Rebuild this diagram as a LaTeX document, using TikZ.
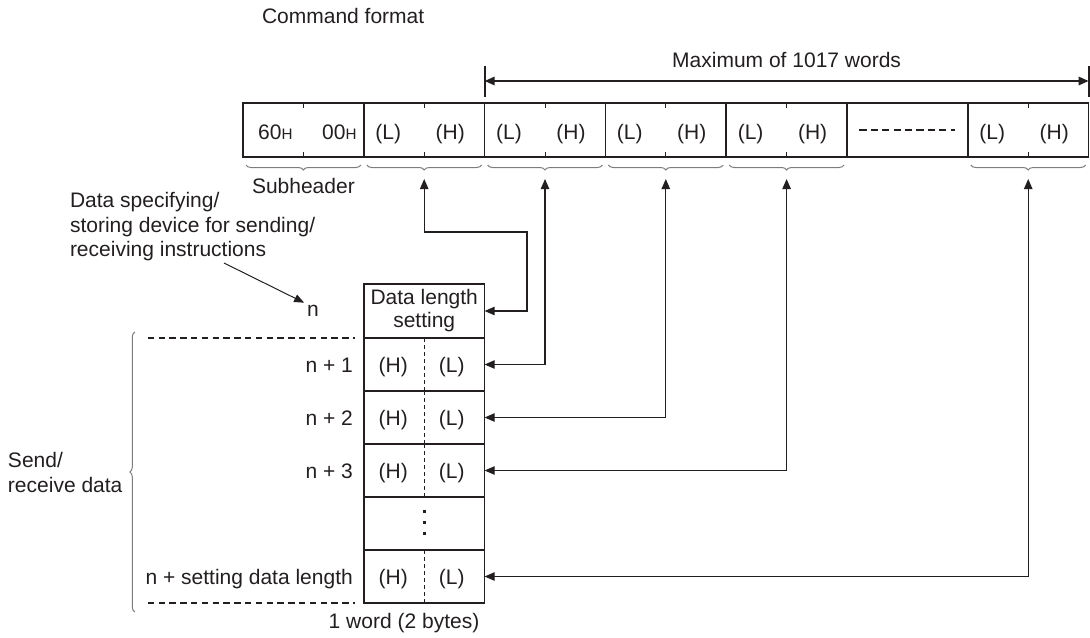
\documentclass[tikz,border=0pt]{standalone}
\usepackage{fontspec}
\setmainfont{Liberation Sans}
\usetikzlibrary{arrows.meta,positioning,calc,decorations.pathreplacing}
\definecolor{inkblack}{RGB}{35,31,32}
\definecolor{bracegray}{RGB}{125,125,125}
\newcommand{\hexH}{{\fontsize{7.6}{8}\selectfont H}}
\tikzset{
  txt/.style     ={inner sep=0pt, outer sep=0pt, text=inkblack,
                   font=\fontsize{10.5}{12.4}\selectfont},
  fmtcell/.style ={rectangle, draw=inkblack, line width=0.85pt, minimum width=60.4pt,
                   minimum height=27pt, inner sep=0pt, outer sep=0pt},
  stkcell/.style ={fmtcell, minimum height=26.5pt},
  midtick/.style ={inkblack, line width=0.5pt},
  halfline/.style={inkblack, line width=0.5pt, dash pattern=on 2pt off 1.5pt},
  rowline/.style ={inkblack, line width=0.6pt, dash pattern=on 3.2pt off 2.2pt},
  gapline/.style ={inkblack, line width=1pt, dash pattern=on 3.6pt off 2.1pt},
  wordbrace/.style={decorate, decoration={brace, amplitude=2.5pt, mirror},
                   bracegray, line width=0.5pt},
  databrace/.style={decorate, decoration={brace, amplitude=2.5pt},
                   bracegray, line width=0.5pt},
  ptr/.style     ={{Triangle[length=5pt,width=4.2pt]}-{Triangle[length=5pt,width=4.2pt]},
                   inkblack, line width=0.6pt},
  note/.style    ={-{Triangle[length=5pt,width=4pt]}, inkblack, line width=0.5pt},
  span/.style    ={ptr, line width=0.9pt},
}
\begin{document}
\begin{tikzpicture}[x=0.5pt, y=-0.5pt]
  \useasboundingbox (0,0) rectangle (1090,637);

  % --- the command format row ---------------------------------------------
  \node[txt, anchor=base west] (title) at (262,24) {Command format};
  \foreach \i in {0,...,6}
    \node[fmtcell] (c\i) at (303.4+120.8*\i,130) {};
  \foreach \i in {0,1,2,3,4,6} {
    \draw[midtick] (c\i.north) -- ++(0,5);
    \draw[midtick] (c\i.south) -- ++(0,-5);
    \draw[wordbrace] ($(c\i.south west)+(3,8)$) -- ($(c\i.south east)+(-3,8)$);
  }
  \node[txt, anchor=base] (hex60) at ($(c0.center)+(-28,9.5)$) {60\hexH};
  \node[txt, anchor=base] (hex00) at ($(c0.center)+(36,9.5)$) {00\hexH};
  \foreach \i in {1,2,3,4,6} {
    \node[txt, anchor=base] (lo\i) at ($(c\i.center)+(-36,9.5)$) {(L)};
    \node[txt, anchor=base] (hi\i) at ($(c\i.center)+(26,9.5)$) {(H)};
    \coordinate (tip\i) at ($(c\i.south)+(0,22)$);
  }
  \draw[gapline] ($(c5.center)+(-48,0)$) -- ($(c5.center)+(48,0)$);
  \node[txt, anchor=base] (subhdr) at ($(c0.south)+(0,36)$) {Subheader};

  % --- the span of the data words ------------------------------------------
  \coordinate (maxL) at ($(c2.north west)+(0,-22)$);
  \coordinate (maxR) at ($(c6.north east)+(0,-22)$);
  \draw[span] (maxL) -- (maxR);
  \draw[inkblack, line width=0.9pt] ($(maxL)+(0,-15)$) -- ($(maxL)+(0,16)$);
  \draw[inkblack, line width=0.9pt] ($(maxR)+(0,-15)$) -- ($(maxR)+(0,16)$);
  \node[txt, anchor=base] (maxlbl) at ($(maxL)!0.5!(maxR)+(0,-14)$)
    {Maximum of 1017 words};

  % --- the device stack -----------------------------------------------------
  \node[fmtcell, align=center, text=inkblack, font=\fontsize{10.5}{11.5}\selectfont]
    (s0) at (424.2,311) {Data length\\setting};
  \node[stkcell, below=0pt of s0] (s1) {};
  \node[stkcell, below=0pt of s1] (s2) {};
  \node[stkcell, below=0pt of s2] (s3) {};
  \node[stkcell, below=0pt of s3] (s4) {};
  \node[stkcell, below=0pt of s4] (s5) {};
  \foreach \i/\name in {1/n + 1, 2/n + 2, 3/n + 3, 5/n + setting data length} {
    \draw[halfline] (s\i.north) -- (s\i.south);
    \node[txt, anchor=base] at ($(s\i.center)+(-31,8)$) {(H)};
    \node[txt, anchor=base] at ($(s\i.center)+(27.5,8)$) {(L)};
    \node[txt, anchor=base east] (row\i) at ($(s\i.west)+(-11,8)$) {\name};
  }
  \foreach \d in {-11,0,11}
    \fill[inkblack] ($(s4.center)+(-1.5,\d-2.5)$) rectangle ++(3,3.2);
  \node[txt, anchor=base] (nlbl) at (313,316) {n};
  \node[txt, anchor=base] (wordlbl) at (404,628) {1 word (2 bytes)};

  % --- send / receive range -------------------------------------------------
  \draw[rowline] ($(s1.north west)+(-216,0)$) -- ($(s1.north west)+(-9,0)$);
  \draw[rowline] ($(s5.south west)+(-216,0)$) -- ($(s5.south west)+(-9,0)$);
  \draw[databrace] ($(s5.south west)+(-229,9)$) -- ($(s1.north west)+(-229,-6)$);
  \node[txt, anchor=north west, align=left] (sendrecv) at (8,452) {Send/\\receive data};

  % --- the device note --------------------------------------------------------
  \node[txt, anchor=north west, align=left] (spec) at (70,192)
    {Data specifying/\\storing device for sending/\\receiving instructions};
  \coordinate (specend) at (224,263);
  \draw[note] (specend) -- ($(nlbl.north west)+(-3,-2)$);

  % --- words to devices ---------------------------------------------------------
  \coordinate (jog) at (527,232);
  \draw[ptr] (tip1) |- (jog) |- (s0.east);
  \draw[ptr] (tip2) |- (s1.east);
  \draw[ptr] (tip3) |- (s2.east);
  \draw[ptr] (tip4) |- (s3.east);
  \draw[ptr] (tip6) |- (s5.east);
\end{tikzpicture}
\end{document}
